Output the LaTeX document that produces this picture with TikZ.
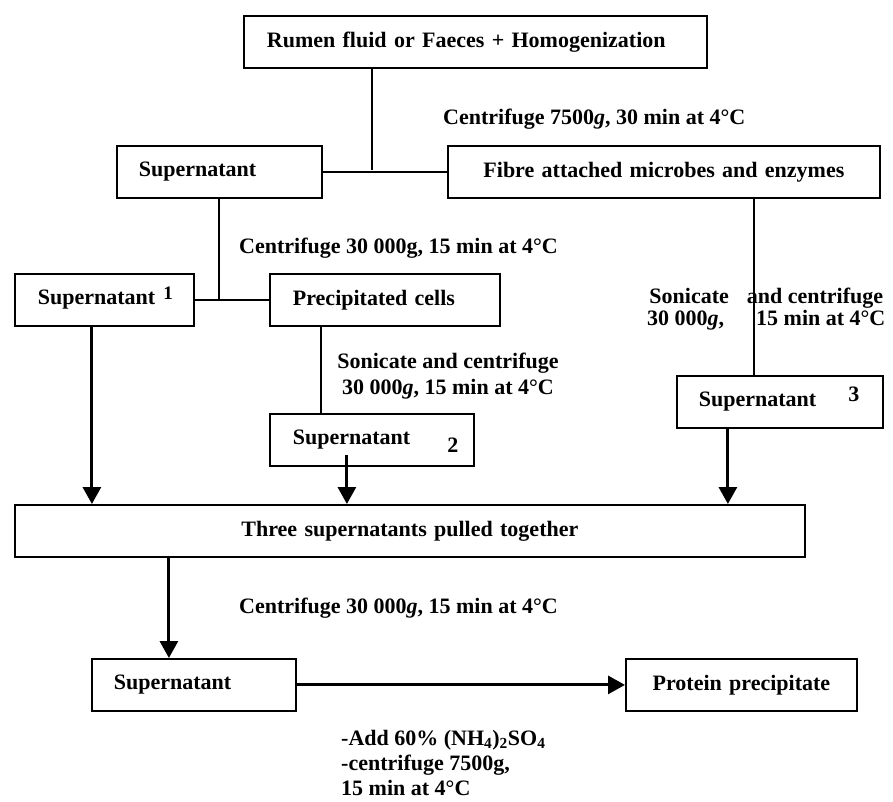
\documentclass[tikz,border=0pt]{standalone}
\usepackage{fontspec}
\setmainfont{Liberation Serif}
\usetikzlibrary{arrows.meta,positioning}

\begin{document}
\begin{tikzpicture}[
          x=1pt, y=-1pt,
          every node/.style={font=\fontsize{22}{26}\selectfont\bfseries},
          box/.style={
            draw,
            line width=1.8pt,
            anchor=north west,
            inner xsep=0pt,
            inner ysep=0pt,
            minimum height=52pt,
            align=left
          },
          note/.style={inner sep=0pt,anchor=base west},
          link/.style={line width=2pt},
          thinlink/.style={line width=1.3pt},
          arr/.style={-{Triangle[length=17pt,width=18pt]},line width=3pt}
        ]
        \useasboundingbox (0,0) rectangle (893,801);
        \node[box,text width=463pt] (src) at (243,15) {\hspace*{23pt}Rumen fluid or Faeces + Homogenization};
        \node[box,text width=205pt] (sup) at (116,145) {\hspace*{22pt}Supernatant};
        \node[box,text width=432pt,align=center] (fibre) at (447,145) {Fibre attached microbes and enzymes};
        \node[box,text width=179pt] (sup1) at (14,273) {\hspace*{23pt}Supernatant\hspace{8pt}\raisebox{5pt}[0pt][0pt]{\fontsize{19}{19}\selectfont 1}};
        \node[box,text width=230pt] (prec) at (269,273) {\hspace*{23pt}Precipitated cells};
        \node[box,text width=204pt] (sup2) at (269,413) {\hspace*{23pt}Supernatant\hspace{37pt}\raisebox{-8pt}[0pt][0pt]{2}};
        \node[box,text width=206pt] (sup3) at (676,375) {\hspace*{22pt}Supernatant\hspace{32pt}\raisebox{5pt}[0pt][0pt]{3}};
        \node[box,text width=790pt,align=center] (pool) at (14,504) {Three supernatants pulled together};
        \node[box,text width=204pt] (sfin) at (91,658) {\hspace*{22pt}Supernatant};
        \node[box,text width=231pt,align=center] (prot) at (625,658) {Protein precipitate};

        \node[note] (spin1) at (443,124) {Centrifuge 7500\textit{g}, 30 min at 4°C};
        \node[note] (spin2) at (239,253) {Centrifuge 30 000g, 15 min at 4°C};
        \node[note,anchor=north,align=center] (soni2) at (448,353) {Sonicate and centrifuge\\30 000\textit{g}, 15 min at 4°C};
        \node[note,anchor=north west,align=center] (soni3) at (647,288) {Sonicate\hspace{18pt}and centrifuge\\[-4pt]30 000\textit{g},\hspace{32pt}15 min at 4°C};
        \node[note] (spin3) at (239,613) {Centrifuge 30 000\textit{g}, 15 min at 4°C};
        \node[note,anchor=north west,align=left,font=\fontsize{22}{25}\selectfont\bfseries] (salt) at (341,730) {-Add 60\% (NH\textsubscript{4})\textsubscript{2}SO\textsubscript{4}\\-centrifuge 7500g,\\15 min at 4°C};

        \coordinate (split) at (372,170);
        \coordinate (precout) at ([xshift=-64pt]prec.south);
        \coordinate (fibreout) at ([xshift=90pt]fibre.south);
        \coordinate (s1out) at ([xshift=-12.5pt]sup1.south);
        \coordinate (s2out) at ([xshift=-25pt,yshift=12pt]sup2.south);
        \coordinate (s3out) at ([xshift=-52pt]sup3.south);
        \coordinate (poolout) at ([xshift=-241pt]pool.south);

        \draw[link] (src.south -| split) -- (split);
        \draw[link] (sup) -- (fibre);
        \draw[link] (sup) -- (sup |- sup1.east);
        \draw[link] (sup1) -- (prec);
        \draw[thinlink] (precout) -- (precout |- sup2.north);
        \draw[link] (fibreout) -- (fibreout |- sup3.north);
        \draw[arr] (s1out) -- (s1out |- pool.north);
        \draw[arr] (s2out) -- (s2out |- pool.north);
        \draw[arr] (s3out) -- (s3out |- pool.north);
        \draw[arr] (poolout) -- (poolout |- sfin.north);
        \draw[arr] (sfin) -- (prot);
      \end{tikzpicture}
\end{document}
